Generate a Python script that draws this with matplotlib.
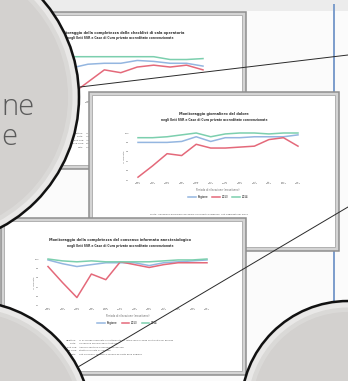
import matplotlib.pyplot as plt
from matplotlib.patches import Rectangle, Circle

W, H = 348, 381

# --- data ---
months_10 = ["gen\n2013", "feb\n2013", "mar\n2013", "apr\n2013", "mag\n2013",
             "giu\n2013", "lug\n2013", "ago\n2013", "set\n2013", "ott\n2013"]
months_12 = ["gen\n2013", "feb\n2013", "mar\n2013", "apr\n2013", "mag\n2013", "giu\n2013",
             "lug\n2013", "ago\n2013", "set\n2013", "ott\n2013", "nov\n2013", "dic\n2013"]
series_names = ["Regione", "2013", "2014"]

# panel 1: checklist di sala operatoria
checklist_blue = [84, 83, 87, 88, 88, 91, 90, 88, 88, 85]
checklist_red = [60, 55, 68, 81, 78, 84, 86, 84, 86, 81]
checklist_green = [95, 95, 95, 95, 95, 95, 95, 92, 92, 93]

# panel 2: monitoraggio del dolore
dolore_blue = [90, 90, 90, 91, 96, 91, 95, 95, 96, 96, 96, 98]
dolore_red = [53, 65, 78, 76, 88, 84, 84, 85, 86, 93, 95, 86]
dolore_green = [95, 95, 96, 98, 100, 96, 99, 100, 100, 99, 100, 100]

# panel 3: consenso informato anestesiologico
consenso_blue = [99, 95, 92, 94, 96, 96, 96, 93, 96, 97, 98, 99]
consenso_red = [92, 75, 59, 84, 78, 97, 94, 91, 94, 96, 96, 96]
consenso_green = [100, 98, 97, 98, 97, 97, 97, 97, 98, 99, 99, 100]

yticks = [50, 60, 70, 80, 90, 100]
colors = ["#94b6e0", "#e4697a", "#7ccfae"]

fig = plt.figure(figsize=(3.48, 3.81), dpi=100)


def layer(z):
    ax = fig.add_axes([0, 0, 1, 1], zorder=z)
    ax.set_xlim(0, W)
    ax.set_ylim(H, 0)
    ax.axis("off")
    ax.patch.set_alpha(0)
    return ax


def draw_panel(z, box, title, title_x, chart, labels, values, notes):
    left, top, right, bottom = box
    ax = layer(z)
    ax.add_patch(Rectangle((left, top), right - left, bottom - top,
                           fc="#d4d4d4", ec="#8e8e8e", lw=1.1))
    ax.add_patch(Rectangle((left + 3, top + 3), right - left - 7, bottom - top - 7,
                           fc="white", ec="#a8a8a8", lw=0.6))

    cx0, cx1, cy0, cy1 = chart
    ax.text(title_x, cy0 - 19, title[0], ha="center", va="center",
            fontsize=2.5, weight="bold", color="#333333")
    ax.text(title_x, cy0 - 13.5, title[1], ha="center", va="center",
            fontsize=2.2, weight="bold", color="#333333")
    ax.text(cx0 - 14, (cy0 + cy1) / 2, "% risposte", rotation=90,
            ha="center", va="center", fontsize=1.7, color="#666666")
    ax.text((cx0 + cx1) / 2, cy1 + 10, "Periodo di rilevazione (mese/anno)",
            ha="center", va="center", fontsize=1.8, color="#666666")

    # footnotes
    for i, (lab, txt) in enumerate(notes):
        y = cy1 + 34 + i * 3.6
        if lab:
            ax.text(cx0 + 29, y, lab, ha="right", va="center", fontsize=1.6, color="#555555")
            ax.text(cx0 + 31, y, txt, ha="left", va="center", fontsize=1.6, color="#555555")
        else:
            ax.text(cx0 + 12, y, txt, ha="left", va="center", fontsize=1.6, color="#555555")

    n = len(labels)
    step = (cx1 - cx0) / (n - 1)
    x0, x1 = cx0 - step / 2, cx1 + step / 2
    cax = fig.add_axes([x0 / W, 1 - cy1 / H, (x1 - x0) / W, (cy1 - cy0) / H], zorder=z + 1)
    cax.patch.set_alpha(0)
    for v, c, name in zip(values, colors, series_names):
        cax.plot(range(n), v, color=c, lw=1.1, label=name, clip_on=False)
    cax.set_xlim(-0.5, n - 0.5)
    cax.set_ylim(50, 100)
    cax.set_yticks(yticks)
    cax.set_yticklabels([str(t) for t in yticks])
    cax.set_xticks(range(n))
    cax.set_xticklabels(labels, linespacing=0.9)
    cax.tick_params(length=0, pad=1.2, labelsize=1.7, labelcolor="#666666")
    for s in cax.spines.values():
        s.set_visible(False)
    cax.legend(loc="center", bbox_to_anchor=(0.5, -0.36), ncol=3, frameon=False,
               fontsize=1.9, handlelength=3, handletextpad=0.6, columnspacing=1.5)


# background
bg = layer(0)
bg.add_patch(Rectangle((0, 0), W, H, fc="#fbfbfb", ec="none"))
bg.add_patch(Rectangle((0, 0), W, 11, fc="#ececec", ec="none"))
bg.plot([334, 334], [4, 320], color="#7c9dcc", lw=1.4, solid_capstyle="butt")

notes_long = [
    ("Obiettivo:", "% di schede compilate correttamente sul totale delle schede controllate nel periodo"),
    ("Fonte:", "rilevazione mensile delle strutture"),
    ("Enti SSR:", "Aziende Sanitarie e Ospedaliere del SSR"),
    ("Case di Cura:", "strutture private accreditate"),
    ("Note:", "dati provvisori soggetti a verifica da parte della Regione"),
]

draw_panel(1, (-4, 12, 246, 169),
           ("Monitoraggio della completezza delle checklist di sala operatoria",
            "negli Enti SSR e Case di Cura private accreditate convenzionate"),
           120, (55, 203, 52, 99), months_10,
           [checklist_blue, checklist_red, checklist_green], notes_long)

draw_panel(3, (89, 92, 339, 251),
           ("Monitoraggio giornaliero del dolore",
            "negli Enti SSR e Case di Cura private accreditate convenzionate"),
           214, (138, 298, 133, 180), months_12,
           [dolore_blue, dolore_red, dolore_green],
           [("", "Fonte: rilevazione giornaliera del dolore nei reparti di degenza, dati aggregati per mese")])

draw_panel(5, (1, 218, 246, 375),
           ("Monitoraggio della completezza del consenso informato anestesiologico",
            "negli Enti SSR e Case di Cura private accreditate convenzionate"),
           120, (48, 207, 259, 306), months_12,
           [consenso_blue, consenso_red, consenso_green], notes_long)

# overlay: connector lines and circles
top = layer(20)
top.plot([80, 348], [87, 55], color="#2a2a2a", lw=0.7)
top.plot([78, 348], [367, 207], color="#2a2a2a", lw=0.7)

for cx, cy, r in [(-69, 97, 148), (-32, 425, 124), (348, 408, 107)]:
    top.add_patch(Circle((cx, cy), r, fc="#d3d1cf", ec="none"))
    top.add_patch(Circle((cx, cy), r - 4, fc="none", ec="white", lw=3.5, alpha=0.5))
    top.add_patch(Circle((cx, cy), r - 8.5, fc="none", ec="white", lw=3.5, alpha=0.18))
    top.add_patch(Circle((cx, cy), r, fc="none", ec="#111111", lw=1.8))

top.text(1, 115, "ne", ha="left", va="baseline", fontsize=21,
         family="Open Sans", weight="light", color="#5a5a5a")
top.text(1, 145, "e", ha="left", va="baseline", fontsize=21,
         family="Open Sans", weight="light", color="#5a5a5a")

fig.savefig("out.png", dpi=100)
